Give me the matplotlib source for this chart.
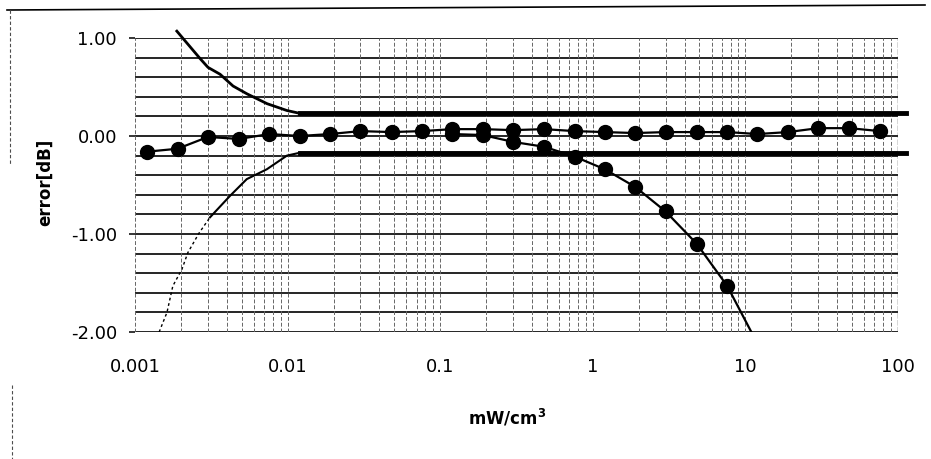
import numpy as np
import matplotlib.pyplot as plt
from matplotlib.lines import Line2D

# power levels (mW/cm3) of the measurement points
power = [0.0012, 0.0019, 0.003, 0.0048, 0.0076, 0.012, 0.019, 0.03, 0.048, 0.076,
         0.12, 0.19, 0.3, 0.48, 0.76, 1.2, 1.9, 3.0, 4.8, 7.6, 12, 19, 30, 48, 76]
err_flat = [-0.16, -0.13, -0.01, -0.03, 0.02, 0.0, 0.02, 0.05, 0.04, 0.05,
            0.07, 0.07, 0.06, 0.07, 0.05, 0.04, 0.03, 0.04, 0.04, 0.04,
            0.02, 0.04, 0.08, 0.08, 0.05]

power_drop = [0.12, 0.19, 0.3, 0.48, 0.76, 1.2, 1.9, 3.0, 4.8, 7.6, 12]
err_drop = [0.02, 0.01, -0.06, -0.11, -0.21, -0.34, -0.52, -0.77, -1.10, -1.53, -2.12]

# tolerance limits
up_x = [0.00188, 0.00267, 0.00301, 0.00361, 0.00439, 0.00542, 0.00733, 0.0099, 0.0121, 112]
up_y = [1.07, 0.79, 0.70, 0.63, 0.51, 0.43, 0.33, 0.26, 0.23, 0.23]
lo_x = [0.00144, 0.00162, 0.00177, 0.00203, 0.00222, 0.00263, 0.0031,
        0.0042, 0.0054, 0.0073, 0.0099, 0.0121, 112]
lo_y = [-2.0, -1.8, -1.53, -1.36, -1.19, -0.99, -0.83,
        -0.61, -0.44, -0.34, -0.2, -0.17, -0.17]

fig = plt.figure(figsize=(9.31, 4.59), dpi=100)
ax = fig.add_axes([135/931, 1-332/459, 763/931, 294/459])
ax.set_xscale('log')
ax.set_xlim(0.001, 100)
ax.set_ylim(-2, 1)

# grid
for yv in np.arange(-2, 1.01, 0.2):
    ax.axhline(yv, color='black', lw=1.2, zorder=1)
for dec in [0.001, 0.01, 0.1, 1, 10]:
    for m in range(1, 10):
        ax.axvline(dec*m, color='0.4', lw=0.7, ls=(0, (4, 2)), zorder=1)
ax.axvline(100, color='0.2', lw=1.0, ls=(0, (4, 1)), zorder=1)
for s in ax.spines.values():
    s.set_visible(False)

# limit lines
ax.plot(up_x, up_y, color='black', lw=2.0, clip_on=False, zorder=3)
ax.plot(up_x[-2:], up_y[-2:], color='black', lw=3.5, clip_on=False, zorder=3)
ax.plot(lo_x[:7], lo_y[:7], color='black', lw=1.0, ls=(0, (2, 2)), zorder=3)
ax.plot(lo_x[6:], lo_y[6:], color='black', lw=1.5, zorder=3)
ax.plot(lo_x[-2:], lo_y[-2:], color='black', lw=3.5, clip_on=False, zorder=3)

# measured series
ax.plot(power, err_flat, color='black', lw=1.6, marker='o', ms=10, zorder=4)
ax.plot(power_drop, err_drop, color='black', lw=1.6, marker='o', ms=10, zorder=4)

ax.set_yticks([-2, -1, 0, 1])
ax.set_yticklabels(['-2.00', '-1.00', '0.00', '1.00'])
ax.set_xticks([0.001, 0.01, 0.1, 1, 10, 100])
ax.set_xticklabels(['0.001', '0.01', '0.1', '1', '10', '100'])
ax.minorticks_off()
ax.tick_params(axis='y', length=4, width=1.1, pad=9, labelsize=13)
ax.tick_params(axis='x', length=0, pad=19, labelsize=13)

fig.text(45/931, 1-182/459, 'error[dB]', rotation=90, ha='center', va='center',
         fontsize=12, fontweight='bold')
fig.text(507/931, 1-418/459, 'mW/cm$^\\mathbf{3}$', ha='center', va='center',
         fontsize=12, fontweight='bold')

# scanned chart frame
fig.add_artist(Line2D([7/931, 925/931], [1-10/459, 1-5/459], color='black', lw=1.2))
fig.add_artist(Line2D([10/931, 10/931], [1-10/459, 1-165/459], color='0.3', lw=0.8, ls=(0, (3, 2))))
fig.add_artist(Line2D([12/931, 12/931], [1-385/459, 0], color='0.3', lw=0.8, ls=(0, (3, 2))))

fig.savefig('out.png', dpi=100)
